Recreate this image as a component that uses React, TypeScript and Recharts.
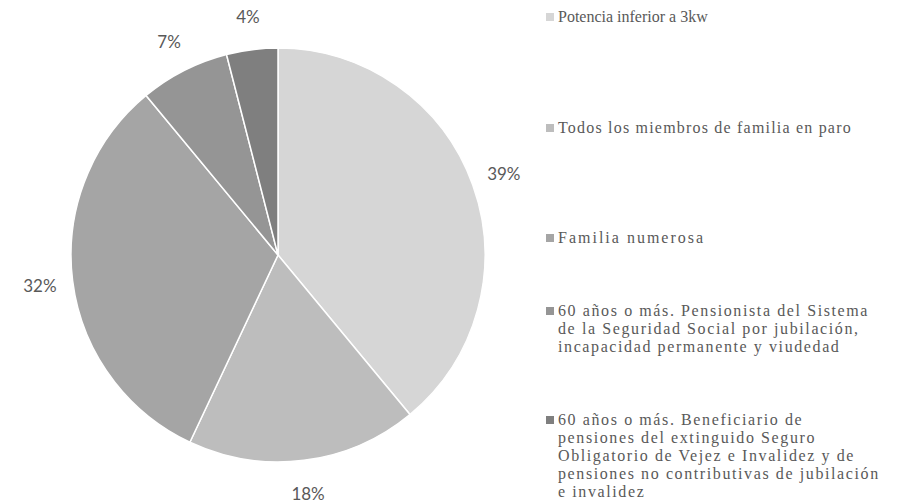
import { PieChart, Pie, Cell, Legend } from "recharts"

const categories = [
  "Potencia inferior a 3kw",
  "Todos los miembros de familia en paro",
  "Familia numerosa",
  "60 años o más. Pensionista del Sistema de la Seguridad Social por jubilación, incapacidad permanente y viudedad",
  "60 años o más. Beneficiario de pensiones del extinguido Seguro Obligatorio de Vejez e Invalidez y de pensiones no contributivas de jubilación e invalidez",
]

const shares = [39, 18, 32, 7, 4]

// legend text broken the way the original wraps it
const legendLines = [
  ["Potencia inferior a 3kw"],
  ["Todos los miembros de familia en paro"],
  ["Familia numerosa"],
  [
    "60 años o más. Pensionista del Sistema",
    "de la Seguridad Social por jubilación,",
    "incapacidad permanente y viudedad",
  ],
  [
    "60 años o más. Beneficiario de",
    "pensiones del extinguido Seguro",
    "Obligatorio de Vejez e Invalidez y de",
    "pensiones no contributivas de jubilación",
    "e invalidez",
  ],
]

const colors = ["#d6d6d6", "#bdbdbd", "#a5a5a5", "#959595", "#7f7f7f"]

const data = categories.map((name, i) => ({ name, value: shares[i] }))

const RADIAN = Math.PI / 180
const legendGaps = [8, 93, 92, 55, 55]
const legendSpacing = [0, 1.2, 2, 1.6, 1.6]

function renderLabel(props: any) {
  const { cx, cy, midAngle, outerRadius, percent } = props
  const r = outerRadius + 33
  const x = cx + r * Math.cos(-midAngle * RADIAN)
  const y = cy + r * Math.sin(-midAngle * RADIAN)
  return (
    <text
      x={x}
      y={y}
      textAnchor="middle"
      dominantBaseline="central"
      fill="#595959"
      fontFamily="Lato, sans-serif"
      fontSize={17}
    >
      {`${Math.round(percent * 100)}%`}
    </text>
  )
}

function LegendBox() {
  return (
    <div style={{ fontFamily: '"Liberation Serif", serif', fontSize: 16, color: "#595959" }}>
      {legendLines.map((lines, i) => (
        <div key={i} style={{ display: "flex", marginTop: legendGaps[i] }}>
          <div
            style={{
              width: 8,
              height: 8,
              background: colors[i],
              marginTop: 5,
              marginRight: 4,
              flexShrink: 0,
            }}
          />
          <div style={{ lineHeight: "18px", letterSpacing: legendSpacing[i], whiteSpace: "nowrap" }}>
            {lines.map((l, j) => (
              <div key={j}>{l}</div>
            ))}
          </div>
        </div>
      ))}
    </div>
  )
}

export default function App() {
  return (
    <div style={{ position: "absolute", left: 0, top: 0, width: 899, height: 503, background: "#fff" }}>
      <PieChart width={899} height={503} margin={{ top: 0, right: 0, bottom: 0, left: 0 }}>
        <Pie
          data={data}
          dataKey="value"
          nameKey="name"
          cx={278}
          cy={255}
          outerRadius={207}
          startAngle={90}
          endAngle={-270}
          stroke="#ffffff"
          strokeWidth={1.5}
          labelLine={false}
          label={renderLabel}
          isAnimationActive={false}
        >
          {data.map((_, i) => (
            <Cell key={i} fill={colors[i]} />
          ))}
        </Pie>
        <Legend
          layout="vertical"
          verticalAlign="top"
          align="right"
          content={() => <LegendBox />}
          wrapperStyle={{ left: 546, top: 0, width: 353 }}
        />
      </PieChart>
    </div>
  )
}
